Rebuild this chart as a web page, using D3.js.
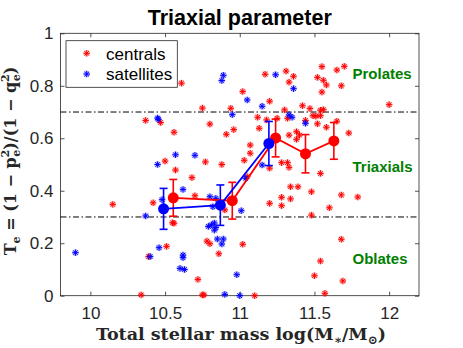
<!DOCTYPE html>
<html>
<head>
<meta charset="utf-8">
<script src="https://cdn.jsdelivr.net/npm/d3@7"></script>
<style>
  body { margin: 0; background: #fff; }
  svg { display: block; }
</style>
</head>
<body>
<div id="chart"></div>
<script>
// data

var xTicks = [10, 10.5, 11, 11.5, 12];
var yTicks = [0, 0.2, 0.4, 0.6, 0.8, 1];

var centralsX = [10.61, 10.75, 10.94, 10.37, 10.47, 10.80, 10.56, 10.91, 10.96, 10.50, 10.77, 10.88,
  11.02, 11.20, 11.42, 11.12, 11.30, 11.32, 11.18, 11.13, 11.33, 11.38, 11.40, 11.38, 11.07, 11.07,
  11.03, 11.28, 11.32, 11.33, 11.20, 11.17, 11.31, 11.36, 11.33, 11.55, 11.65, 11.70, 11.52, 11.56,
  11.58, 11.68, 11.55, 11.47, 11.54, 11.56, 12.00, 11.49, 11.51, 11.54, 11.44, 11.52, 11.58, 11.65,
  11.73, 11.54, 11.34, 11.39, 11.48, 11.68, 11.79, 11.28, 11.34, 11.20, 11.28, 11.60, 11.48, 11.02,
  11.68, 11.54, 11.50, 11.69, 11.57, 11.10, 10.57, 10.68, 10.70, 10.15, 10.42, 10.56, 10.55, 10.78,
  10.80, 10.86, 10.51, 10.39, 10.72, 10.34, 10.75, 10.76, 10.90, 11.05, 11.25];
var centralsY = [0.81, 0.715, 0.714, 0.668, 0.66, 0.654, 0.623, 0.615, 0.633, 0.513, 0.51, 0.50,
  0.778, 0.741, 0.724, 0.68, 0.708, 0.676, 0.67, 0.638, 0.612, 0.625, 0.612, 0.596, 0.574, 0.543,
  0.516, 0.507, 0.507, 0.489, 0.486, 0.844, 0.856, 0.836, 0.814, 0.873, 0.86, 0.874, 0.832, 0.821,
  0.803, 0.80, 0.776, 0.713, 0.707, 0.709, 0.728, 0.686, 0.684, 0.686, 0.668, 0.655, 0.642, 0.665,
  0.62, 0.466, 0.415, 0.415, 0.396, 0.384, 0.376, 0.375, 0.369, 0.352, 0.343, 0.335, 0.307, 0.196,
  0.215, 0.132, 0.076, 0.056, 0.009, 0.0, 0.479, 0.45, 0.381, 0.348, 0.354, 0.276, 0.278, 0.208,
  0.198, 0.16, 0.188, 0.149, 0.062, 0.003, 0.003, 0.003, 0.327, 0.454, 0.676];

var satellitesX = [10.89, 10.88, 10.95, 10.45, 10.455, 10.57, 10.70, 10.45, 11.05, 11.15, 11.33, 11.35,
  11.44, 11.24, 11.36, 11.04, 11.15, 11.01, 10.48, 10.62, 10.37, 10.79, 10.81, 10.83, 10.84, 10.83,
  10.85, 10.89, 10.88, 10.46, 10.40, 9.90, 10.62, 10.62, 10.60, 10.63, 10.90, 10.98, 11.00, 10.84,
  10.82, 10.80];
var satellitesY = [0.84, 0.82, 0.69, 0.677, 0.672, 0.537, 0.535, 0.50, 0.746, 0.722, 0.689, 0.68,
  0.657, 0.842, 0.789, 0.447, 0.498, 0.324, 0.366, 0.405, 0.304, 0.264, 0.27, 0.277, 0.26, 0.25,
  0.216, 0.216, 0.197, 0.183, 0.149, 0.164, 0.155, 0.145, 0.104, 0.10, 0.005, 0.08, 0.0, 0.371,
  0.339, 0.377];

var meanCentralsX = [10.555, 10.95, 11.24, 11.44, 11.63];
var meanCentralsY = [0.373, 0.362, 0.601, 0.541, 0.59];
var errCentrals = [0.07, 0.07, 0.072, 0.073, 0.07];

var meanSatellitesX = [10.49, 10.87, 11.195];
var meanSatellitesY = [0.331, 0.345, 0.580];
var errSatellites = [0.078, 0.077, 0.084];

var regionLabels = ["Prolates", "Triaxials", "Oblates"];
var regionLabelY = [0.825, 0.471, 0.12];

var svgWidth = 463;
var svgHeight = 348;

var margin = {top: 33.3, right: 44, bottom: 52.3, left: 60.5};
var width = svgWidth - margin.left - margin.right;
var height = svgHeight - margin.top - margin.bottom;

var svg = d3.select("#chart")
  .append("svg")
  .attr("width", svgWidth)
  .attr("height", svgHeight);

var chartGroup = svg.append("g")
  .attr("transform", `translate(${margin.left}, ${margin.top})`);

var xScale = d3.scaleLinear().domain([9.8, 12.2]).range([0, width]);
var yScale = d3.scaleLinear().domain([0, 1]).range([height, 0]);

var axisFont = "'Liberation Sans', Arial, Helvetica, sans-serif";
var axisColor = "#262626";

// axes, ticks pointing inward like matlab
var bottomAxis = d3.axisBottom(xScale).tickValues(xTicks).tickSizeInner(-4).tickSizeOuter(0).tickPadding(11)
  .tickFormat(d => d);
var leftAxis = d3.axisLeft(yScale).tickValues(yTicks).tickSizeInner(-4).tickSizeOuter(0).tickPadding(7)
  .tickFormat(d => d);
var topAxis = d3.axisTop(xScale).tickValues(xTicks).tickSizeInner(-4).tickSizeOuter(0).tickFormat("");
var rightAxis = d3.axisRight(yScale).tickValues(yTicks).tickSizeInner(-4).tickSizeOuter(0).tickFormat("");

function styleAxis(g) {
  g.select(".domain").remove();
  g.selectAll("line").attr("stroke", axisColor).attr("stroke-width", 0.8);
  g.selectAll("text").attr("fill", axisColor).attr("font-family", axisFont).attr("font-size", 17);
}

chartGroup.append("g").attr("transform", `translate(0, ${height})`).call(bottomAxis).call(styleAxis);
chartGroup.append("g").call(leftAxis).call(styleAxis);
chartGroup.append("g").call(topAxis).call(styleAxis);
chartGroup.append("g").attr("transform", `translate(${width}, 0)`).call(rightAxis).call(styleAxis);

chartGroup.append("rect")
  .attr("width", width)
  .attr("height", height)
  .attr("fill", "none")
  .attr("stroke", axisColor)
  .attr("stroke-width", 0.8);

// dash-dot limits at 0.3 and 0.7
chartGroup.selectAll(".limit")
  .data([0.3, 0.7])
  .enter()
  .append("line")
  .attr("x1", 0)
  .attr("x2", width)
  .attr("y1", d => yScale(d))
  .attr("y2", d => yScale(d))
  .attr("stroke", "black")
  .attr("stroke-width", 1)
  .attr("stroke-dasharray", "6,2.5,1.5,2.5");

// asterisk marker
function starPath(s) {
  var d = s * 0.7071;
  return `M0,${-s}V${s}M${-s},0H${s}M${-d},${-d}L${d},${d}M${-d},${d}L${d},${-d}`;
}

function drawStars(xs, ys, color) {
  var pts = xs.map((x, i) => [x, ys[i]]);
  var g = chartGroup.append("g");
  g.selectAll(null)
    .data(pts)
    .enter()
    .append("path")
    .attr("d", starPath(3.3))
    .attr("transform", d => `translate(${xScale(d[0])}, ${yScale(d[1])})`)
    .attr("stroke", color)
    .attr("stroke-opacity", 0.25)
    .attr("stroke-width", 2.6)
    .attr("fill", "none");
  g.selectAll(null)
    .data(pts)
    .enter()
    .append("path")
    .attr("d", starPath(3.2))
    .attr("transform", d => `translate(${xScale(d[0])}, ${yScale(d[1])})`)
    .attr("stroke", color)
    .attr("stroke-width", 1)
    .attr("fill", "none");
}

drawStars(centralsX, centralsY, "#ff0000");
drawStars(satellitesX, satellitesY, "#0000ff");

// binned means with error bars
function drawMeans(xs, ys, errs, color) {
  var pts = xs.map((x, i) => ({x: x, y: ys[i], e: errs[i]}));
  var line = d3.line().x(d => xScale(d.x)).y(d => yScale(d.y));
  chartGroup.append("path")
    .datum(pts)
    .attr("d", line)
    .attr("fill", "none")
    .attr("stroke", color)
    .attr("stroke-width", 1.8);

  var bars = chartGroup.append("g").attr("stroke", color).attr("stroke-width", 1.6);
  bars.selectAll(null).data(pts).enter().append("line")
    .attr("x1", d => xScale(d.x)).attr("x2", d => xScale(d.x))
    .attr("y1", d => yScale(d.y - d.e)).attr("y2", d => yScale(d.y + d.e));
  bars.selectAll(null).data(pts).enter().append("line")
    .attr("x1", d => xScale(d.x) - 4).attr("x2", d => xScale(d.x) + 4)
    .attr("y1", d => yScale(d.y + d.e)).attr("y2", d => yScale(d.y + d.e));
  bars.selectAll(null).data(pts).enter().append("line")
    .attr("x1", d => xScale(d.x) - 4).attr("x2", d => xScale(d.x) + 4)
    .attr("y1", d => yScale(d.y - d.e)).attr("y2", d => yScale(d.y - d.e));

  chartGroup.selectAll(null).data(pts).enter().append("circle")
    .attr("cx", d => xScale(d.x))
    .attr("cy", d => yScale(d.y))
    .attr("r", 5.5)
    .attr("fill", color);
}

drawMeans(meanCentralsX, meanCentralsY, errCentrals, "#ff0000");
drawMeans(meanSatellitesX, meanSatellitesY, errSatellites, "#0000ff");

// region labels
chartGroup.selectAll(".region")
  .data(regionLabels)
  .enter()
  .append("text")
  .attr("x", 292)
  .attr("y", (d, i) => yScale(regionLabelY[i]))
  .attr("fill", "#008000")
  .attr("font-family", axisFont)
  .attr("font-weight", "bold")
  .attr("font-size", 15)
  .text(d => d);

// legend
var legend = chartGroup.append("g").attr("transform", "translate(5.5, 7.4)");
legend.append("rect")
  .attr("width", 111.3)
  .attr("height", 46.6)
  .attr("fill", "white")
  .attr("stroke", axisColor)
  .attr("stroke-width", 0.8);
var legendItems = [["centrals", "#ff0000"], ["satellites", "#0000ff"]];
legendItems.forEach(function(item, i) {
  var yy = 12.6 + i * 20.7;
  legend.append("path")
    .attr("d", starPath(3.3))
    .attr("transform", `translate(20.7, ${yy})`)
    .attr("stroke", item[1])
    .attr("stroke-opacity", 0.25)
    .attr("stroke-width", 2.6)
    .attr("fill", "none");
  legend.append("path")
    .attr("d", starPath(3.2))
    .attr("transform", `translate(20.7, ${yy})`)
    .attr("stroke", item[1])
    .attr("stroke-width", 1)
    .attr("fill", "none");
  legend.append("text")
    .attr("x", 40)
    .attr("y", yy + 6.3)
    .attr("fill", "black")
    .attr("font-family", axisFont)
    .attr("font-size", 17)
    .text(item[0]);
});

// title
svg.append("text")
  .attr("x", margin.left + width / 2)
  .attr("y", 25)
  .attr("text-anchor", "middle")
  .attr("font-family", axisFont)
  .attr("font-weight", "bold")
  .attr("font-size", 21.5)
  .attr("fill", "black")
  .text("Triaxial parameter");

// x label
var serif = "'DejaVu Serif', 'Liberation Serif', serif";
var xLabel = svg.append("text")
  .attr("x", 241)
  .attr("y", 339.5)
  .attr("text-anchor", "middle")
  .attr("font-family", serif)
  .attr("font-weight", "bold")
  .attr("font-size", 17.5)
  .attr("fill", axisColor);
xLabel.append("tspan").text("Total stellar mass log(M");
xLabel.append("tspan").attr("font-size", 12).attr("dy", 4).text("∗");
xLabel.append("tspan").attr("dy", -4).text("/M");
xLabel.append("tspan").attr("font-size", 12).attr("dy", 4).text("⊙");
xLabel.append("tspan").attr("dy", -4).text(")");

// y label
var yLabel = svg.append("text")
  .attr("transform", "translate(16, 161) rotate(-90)")
  .attr("text-anchor", "middle")
  .attr("font-family", serif)
  .attr("font-weight", "bold")
  .attr("font-size", 16)
  .attr("fill", axisColor);
yLabel.append("tspan").text("T");
yLabel.append("tspan").attr("font-size", 11).attr("dy", 4).text("e");
yLabel.append("tspan").attr("dy", -4).text(" = (1 − p");
yLabel.append("tspan").attr("font-size", 11).attr("dy", -7).text("2");
yLabel.append("tspan").attr("font-size", 11).attr("dx", -7).attr("dy", 11).text("e");
yLabel.append("tspan").attr("dy", -4).text(")/(1 − q");
yLabel.append("tspan").attr("font-size", 11).attr("dy", -7).text("2");
yLabel.append("tspan").attr("font-size", 11).attr("dx", -7).attr("dy", 11).text("e");
yLabel.append("tspan").attr("dy", -4).text(")");
</script>
</body>
</html>
